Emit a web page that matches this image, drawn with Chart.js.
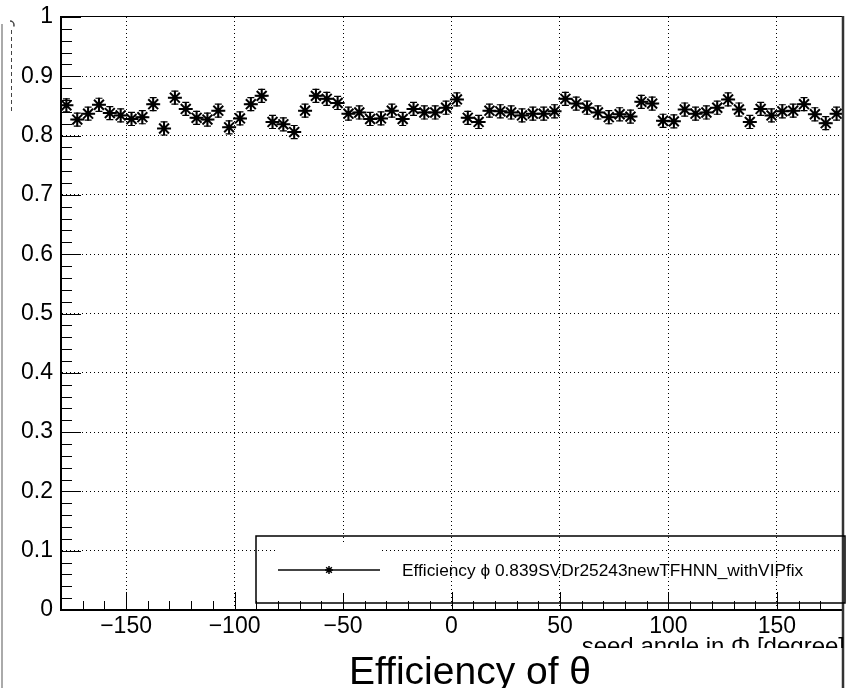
<!DOCTYPE html>
<html>
<head>
<meta charset="utf-8">
<script src="https://cdn.jsdelivr.net/npm/chart.js@4.4.1/dist/chart.umd.min.js"></script>
<style>
  html, body { margin: 0; padding: 0; background: #fff; }
  #wrap { width: 848px; height: 688px; position: relative; }
</style>
</head>
<body>
<div id="wrap"><canvas id="c" width="848" height="688"></canvas></div>
<script>
// bin centres of the 5 degree phi bins
const binCenters = [
  -177.5, -172.5, -167.5, -162.5, -157.5, -152.5, -147.5, -142.5, -137.5, -132.5, -127.5, -122.5,
  -117.5, -112.5, -107.5, -102.5, -97.5, -92.5, -87.5, -82.5, -77.5, -72.5, -67.5, -62.5,
  -57.5, -52.5, -47.5, -42.5, -37.5, -32.5, -27.5, -22.5, -17.5, -12.5, -7.5, -2.5,
  2.5, 7.5, 12.5, 17.5, 22.5, 27.5, 32.5, 37.5, 42.5, 47.5, 52.5, 57.5,
  62.5, 67.5, 72.5, 77.5, 82.5, 87.5, 92.5, 97.5, 102.5, 107.5, 112.5, 117.5,
  122.5, 127.5, 132.5, 137.5, 142.5, 147.5, 152.5, 157.5, 162.5, 167.5, 172.5, 177.5
];
const efficiency = [
  0.851, 0.827, 0.837, 0.852, 0.838, 0.834, 0.828, 0.831, 0.853, 0.812, 0.864, 0.845,
  0.830, 0.827, 0.842, 0.814, 0.829, 0.853, 0.867, 0.823, 0.819, 0.806, 0.842, 0.867,
  0.862, 0.855, 0.837, 0.839, 0.828, 0.829, 0.842, 0.828, 0.845, 0.839, 0.839, 0.847,
  0.861, 0.830, 0.823, 0.842, 0.841, 0.839, 0.834, 0.837, 0.837, 0.841, 0.862, 0.854,
  0.847, 0.839, 0.831, 0.836, 0.832, 0.857, 0.854, 0.825, 0.824, 0.844, 0.837, 0.839,
  0.847, 0.861, 0.844, 0.823, 0.845, 0.834, 0.841, 0.842, 0.853, 0.836, 0.821, 0.837
];
const effError = 0.011;
const binHalfWidth = 2.5;

const xTickValues = [-150, -100, -50, 0, 50, 100, 150];
const yTickValues = [0, 0.1, 0.2, 0.3, 0.4, 0.5, 0.6, 0.7, 0.8, 0.9, 1];

const legendLabel = 'Efficiency \u03D5 0.839SVDr25243newTFHNN_withVIPfix';
const xTitle = 'seed angle in \u03A6 [degree]';
const mainTitle = 'Efficiency of \u03B8';
const FONT = '"Liberation Sans", Arial, Helvetica, sans-serif';

function drawStar(ctx, x, y, r) {
  const d = r * Math.SQRT1_2;
  ctx.beginPath();
  ctx.moveTo(x - r, y); ctx.lineTo(x + r, y);
  ctx.moveTo(x, y - r); ctx.lineTo(x, y + r);
  ctx.moveTo(x - d, y - d); ctx.lineTo(x + d, y + d);
  ctx.moveTo(x - d, y + d); ctx.lineTo(x + d, y - d);
  ctx.stroke();
}

// keep the frame where ROOT put it, whatever the label sizes
function noScalePadding(s) {
  s.paddingTop = 0; s.paddingBottom = 0;
  s.paddingLeft = 0; s.paddingRight = 0;
}

const rootStyle = {
  id: 'rootStyle',
  beforeDraw(chart) {
    const ctx = chart.ctx;
    ctx.save();
    ctx.fillStyle = '#fff';
    ctx.fillRect(0, 0, chart.width, chart.height);
    ctx.restore();
  },
  beforeDatasetsDraw(chart) {
    const ctx = chart.ctx;
    const xs = chart.scales.x, ys = chart.scales.y;
    ctx.save();
    ctx.strokeStyle = '#000';
    ctx.lineWidth = 1.2;
    binCenters.forEach((c, i) => {
      const px = xs.getPixelForValue(c);
      const py = ys.getPixelForValue(efficiency[i]);
      const top = ys.getPixelForValue(efficiency[i] + effError);
      const bot = ys.getPixelForValue(efficiency[i] - effError);
      ctx.beginPath();
      ctx.moveTo(px, top); ctx.lineTo(px, bot);
      ctx.moveTo(px - 3.5, top); ctx.lineTo(px + 3.5, top);
      ctx.moveTo(px - 3.5, bot); ctx.lineTo(px + 3.5, bot);
      ctx.moveTo(xs.getPixelForValue(c - binHalfWidth), py);
      ctx.lineTo(xs.getPixelForValue(c + binHalfWidth), py);
      ctx.stroke();
    });
    ctx.restore();
  },
  afterDraw(chart) {
    const ctx = chart.ctx;
    const xs = chart.scales.x, ys = chart.scales.y;
    const a = chart.chartArea;
    ctx.save();

    // ticks drawn inside the frame
    ctx.strokeStyle = '#000';
    ctx.lineWidth = 1;
    ctx.beginPath();
    for (let v = -180; v <= 180; v += 10) {
      const px = Math.round(xs.getPixelForValue(v)) + 0.5;
      const len = v % 50 === 0 ? 18 : 9;
      ctx.moveTo(px, a.bottom); ctx.lineTo(px, a.bottom - len);
    }
    for (let k = 0; k <= 50; k++) {
      const py = Math.round(ys.getPixelForValue(k * 0.02)) + 0.5;
      const len = k % 5 === 0 ? 20 : 11;
      ctx.moveTo(a.left, py); ctx.lineTo(a.left + len, py);
    }
    ctx.stroke();

    // top and right frame
    ctx.beginPath();
    ctx.lineWidth = 1;
    ctx.moveTo(a.left, a.top - 0.5); ctx.lineTo(a.right + 1, a.top - 0.5);
    ctx.stroke();
    ctx.beginPath();
    ctx.strokeStyle = '#333';
    ctx.lineWidth = 2.5;
    ctx.moveTo(a.right + 1, a.top - 1); ctx.lineTo(a.right + 1, chart.height);
    ctx.stroke();

    // legend
    const lx = 256, ly = 536, lw = 589, lh = 67;
    ctx.fillStyle = '#fff';
    ctx.fillRect(278, 543, 102, 50);
    ctx.strokeStyle = '#000';
    ctx.lineWidth = 1.5;
    ctx.strokeRect(lx, ly, lw, lh);
    ctx.strokeStyle = '#444';
    ctx.lineWidth = 2;
    ctx.beginPath();
    ctx.moveTo(278, 570); ctx.lineTo(380, 570);
    ctx.stroke();
    ctx.strokeStyle = '#000';
    ctx.lineWidth = 1.5;
    drawStar(ctx, 329, 570, 4);
    ctx.fillStyle = '#000';
    ctx.font = '17.3px ' + FONT;
    ctx.textAlign = 'left';
    ctx.textBaseline = 'alphabetic';
    ctx.fillText(legendLabel, 402, 576);

    // x axis title, clipped at the bottom like the original
    ctx.save();
    ctx.beginPath();
    ctx.rect(0, 0, chart.width, 648);
    ctx.clip();
    ctx.font = '24px ' + FONT;
    ctx.textAlign = 'right';
    ctx.fillText(xTitle, 845, 654);
    ctx.restore();

    // main title at the bottom
    ctx.font = '39px ' + FONT;
    ctx.textAlign = 'center';
    ctx.fillText(mainTitle, 470, 684);

    // left edge remnants
    ctx.strokeStyle = '#aaa';
    ctx.lineWidth = 2;
    ctx.beginPath();
    ctx.moveTo(2, 24); ctx.lineTo(2, chart.height);
    ctx.stroke();
    ctx.strokeStyle = '#444';
    ctx.lineWidth = 1;
    ctx.setLineDash([4, 3]);
    ctx.beginPath();
    ctx.moveTo(11.5, 30); ctx.lineTo(11.5, 112);
    ctx.stroke();
    ctx.setLineDash([]);
    ctx.lineWidth = 1.5;
    ctx.beginPath();
    ctx.arc(10, 25, 4, -Math.PI / 2, 0.4);
    ctx.stroke();

    ctx.restore();
  }
};

const data = {
  datasets: [{
    label: 'Efficiency',
    data: binCenters.map((c, i) => ({ x: c, y: efficiency[i] })),
    pointStyle: 'star',
    pointRadius: 7,
    pointHoverRadius: 7,
    pointBorderColor: '#000',
    pointBackgroundColor: '#000',
    pointBorderWidth: 2,
    showLine: false
  }]
};

const chart = new Chart(document.getElementById('c'), {
  type: 'scatter',
  data: data,
  plugins: [rootStyle],
  options: {
    responsive: false,
    devicePixelRatio: 1,
    animation: false,
    events: [],
    layout: { autoPadding: false, padding: { top: 17, right: 6, left: 0, bottom: 0 } },
    plugins: {
      legend: { display: false },
      tooltip: { enabled: false }
    },
    scales: {
      x: {
        type: 'linear',
        min: -180,
        max: 180,
        afterBuildTicks: s => { s.ticks = xTickValues.map(v => ({ value: v })); },
        afterFit: s => { s.height = 78; noScalePadding(s); },
        grid: { color: '#000', lineWidth: 1, drawTicks: false },
        border: { display: true, color: '#000', width: 2, dash: [1, 3] },
        ticks: {
          color: '#000',
          padding: 3,
          maxRotation: 0,
          autoSkip: false,
          font: { family: FONT, size: 23 },
          callback: v => String(v).replace('-', '\u2212')
        }
      },
      y: {
        type: 'linear',
        min: 0,
        max: 1,
        afterBuildTicks: s => { s.ticks = yTickValues.map(v => ({ value: v })); },
        afterFit: s => { s.width = 61; noScalePadding(s); },
        grid: {
          color: c => (c.tick && (c.tick.value === 0 || c.tick.value === 1)) ? 'rgba(0,0,0,0)' : '#000',
          lineWidth: 1,
          drawTicks: false
        },
        border: { display: true, color: '#000', width: 2, dash: [1, 3] },
        ticks: {
          color: '#000',
          padding: 8,
          autoSkip: false,
          font: { family: FONT, size: 23 },
          callback: v => String(v)
        }
      }
    }
  }
});
</script>
</body>
</html>
